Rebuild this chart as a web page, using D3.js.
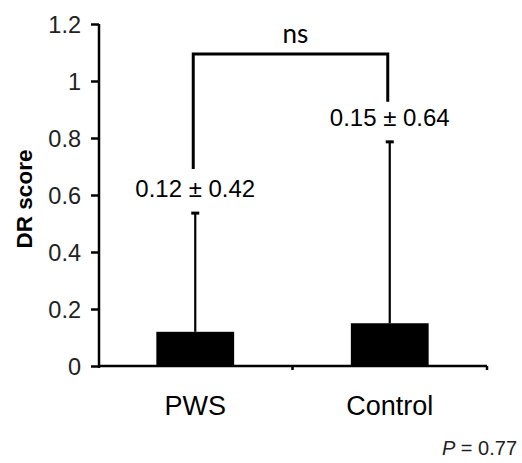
<!DOCTYPE html>
<html>
<head>
<meta charset="utf-8">
<script src="https://cdn.jsdelivr.net/npm/d3@7"></script>
<style>
  body { margin: 0; background: #fff; }
  text { font-family: Arial, "Liberation Sans", sans-serif; }
</style>
</head>
<body>
<div id="main"></div>
<script>
// data
const groups = ["PWS", "Control"];
const means = [0.12, 0.15];
const sds = [0.42, 0.64];
const valueLabels = ["0.12 \u00b1 0.42", "0.15 \u00b1 0.64"];
const yTicks = [0, 0.2, 0.4, 0.6, 0.8, 1, 1.2];
const yTickLabels = ["0", "0.2", "0.4", "0.6", "0.8", "1", "1.2"];
const sigLabel = "ns";
const pLabel = "0.77";

const W = 522, H = 463;
const svg = d3.select("#main").append("svg")
  .attr("width", W).attr("height", H);

const x = d3.scaleBand().domain(groups).range([98, 487])
  .paddingInner(0.6).paddingOuter(0.3);
const y = d3.scaleLinear().domain([0, 1.2]).range([366, 24]);

// y axis
const yAxis = d3.axisLeft(y).tickValues(yTicks)
  .tickFormat((d, i) => yTickLabels[i])
  .tickSize(8).tickPadding(10).tickSizeOuter(0);
const gy = svg.append("g").attr("transform", "translate(99,0)").call(yAxis);
gy.select(".domain").attr("stroke-width", 2.5).attr("d", `M0,${y(1.2)}V${y(0) + 2}`);
gy.selectAll(".tick line").attr("stroke-width", 2.5);
gy.selectAll(".tick text").attr("font-size", 23.5).attr("fill", "#222").attr("dy", "0.35em");

// y title
svg.append("text")
  .attr("transform", `translate(32,${(y(0) + y(1.2)) / 2 + 4}) rotate(-90)`)
  .attr("text-anchor", "middle")
  .attr("font-size", 22.5).attr("font-weight", "bold")
  .text("DR score");

// bars
const bars = groups.map((g, i) => ({ g, m: means[i], sd: sds[i], lab: valueLabels[i] }));
svg.selectAll("rect.bar").data(bars).join("rect")
  .attr("class", "bar")
  .attr("x", d => x(d.g)).attr("width", x.bandwidth())
  .attr("y", d => y(d.m)).attr("height", d => y(0) - y(d.m))
  .attr("fill", "#000");

// error bars (upper only)
const cx = d => x(d.g) + x.bandwidth() / 2;
svg.selectAll("line.err").data(bars).join("line")
  .attr("x1", cx).attr("x2", cx)
  .attr("y1", d => y(d.m)).attr("y2", d => y(d.m + d.sd))
  .attr("stroke", "#000").attr("stroke-width", 2.2);
svg.selectAll("line.cap").data(bars).join("line")
  .attr("x1", d => cx(d) - 4).attr("x2", d => cx(d) + 4)
  .attr("y1", d => y(d.m + d.sd) + 1).attr("y2", d => y(d.m + d.sd) + 1)
  .attr("stroke", "#000").attr("stroke-width", 3);

// value labels
svg.selectAll("text.val").data(bars).join("text")
  .attr("class", "val")
  .attr("x", cx).attr("y", d => y(d.m + d.sd) - 15)
  .attr("text-anchor", "middle").attr("font-size", 24)
  .text(d => d.lab);

// x axis
const xAxis = d3.axisBottom(x).tickSize(0).tickPadding(30);
const gx = svg.append("g").attr("transform", `translate(0,${y(0)})`).call(xAxis);
gx.select(".domain").attr("stroke-width", 2.5).attr("d", "M98,0H487");
gx.selectAll(".tick text").attr("font-size", 27).attr("fill", "#000")
  .attr("dy", "0.71em");
// ticks between categories and at the end
const bounds = [x(groups[1]) - x.step() * x.paddingInner() / 2, 487];
gx.selectAll("line.bt").data(bounds).join("line")
  .attr("x1", d => d).attr("x2", d => d).attr("y1", 0).attr("y2", 4)
  .attr("stroke", "#000").attr("stroke-width", 2.5);

// significance bracket
const bx1 = cx(bars[0]) - 2, bx2 = cx(bars[1]) - 2;
const bTop = 54;
svg.append("path")
  .attr("d", `M${bx1},${y(bars[0].m + bars[0].sd) - 43}V${bTop}H${bx2}V${y(bars[1].m + bars[1].sd) - 39}`)
  .attr("fill", "none").attr("stroke", "#000").attr("stroke-width", 3);
svg.append("text")
  .attr("x", (bx1 + bx2) / 2 + 5).attr("y", 43)
  .attr("text-anchor", "middle").attr("font-size", 26)
  .style("font-family", "Lato, 'Open Sans', sans-serif")
  .text(sigLabel);

// p value
const pt = svg.append("text").attr("x", 517).attr("y", 455)
  .attr("text-anchor", "end").attr("font-size", 20).attr("fill", "#222");
pt.append("tspan").attr("font-style", "italic").text("P");
pt.append("tspan").text(" = " + pLabel);
</script>
</body>
</html>
